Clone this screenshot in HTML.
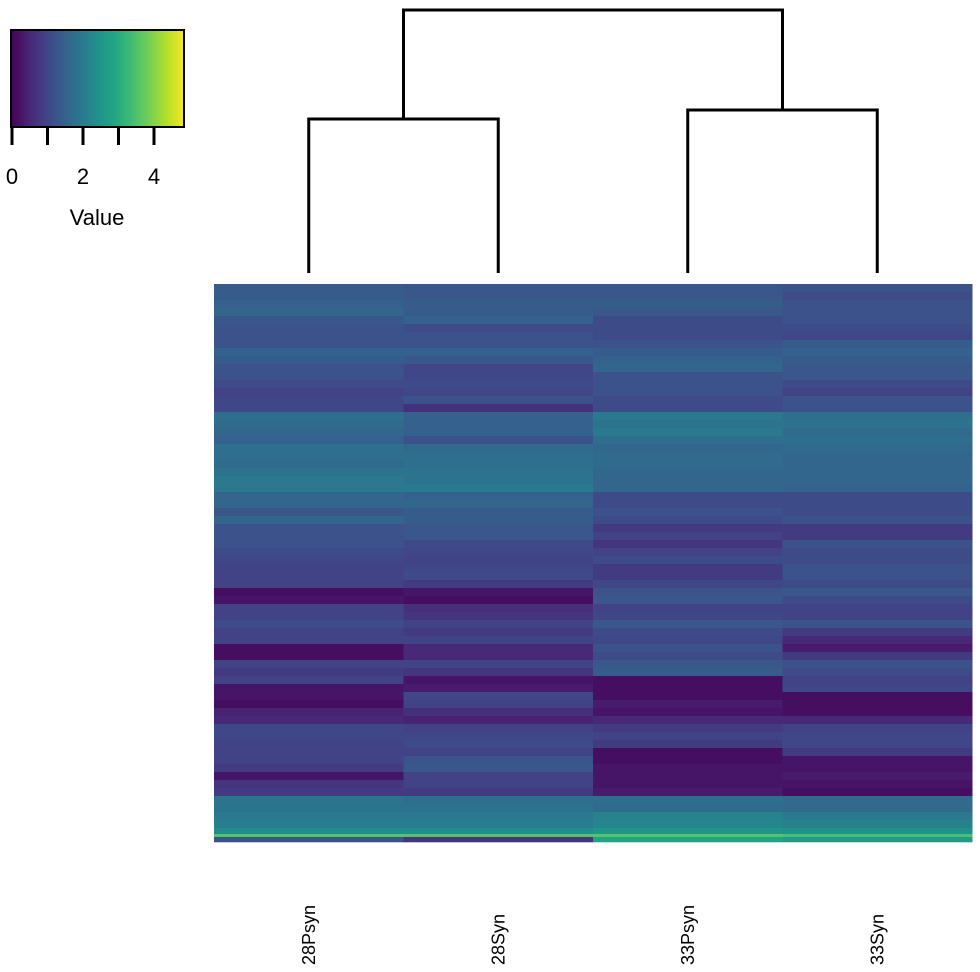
<!DOCTYPE html>
<html><head><meta charset="utf-8">
<style>
html,body{margin:0;padding:0;background:#fff;}
svg{display:block;font-family:"Liberation Sans",Arial,sans-serif;}
</style></head>
<body>
<svg id="chart" width="980" height="972" viewBox="0 0 980 972">
  <defs>
    <linearGradient id="vir" x1="0" x2="1" y1="0" y2="0"></linearGradient>
  </defs>
  <g id="legend">
    <rect x="11" y="30" width="173" height="97" fill="url(#vir)" stroke="#000" stroke-width="2"></rect>
    <g id="legend-ticks"></g>
    <text x="97" y="225" font-size="22" text-anchor="middle">Value</text>
  </g>
  <g id="dendro" stroke="#000" stroke-width="3" fill="none"></g>
  <g id="cells"></g>
  <g id="collabels"></g>
</svg>
<script>
const columns = ["28Psyn","28Syn","33Psyn","33Syn"];
const legendTicks = [0,1,2,3,4];
const legendTickLabels = ["0","","2","","4"];
const col1 = [1.5,1.5,1.6,1.7,1.4,1.3,1.3,1.3,1.6,1.5,1.3,1.3,1.2,1.0,1.1,1.1,1.9,1.8,1.7,1.6,1.9,1.9,1.8,2.0,2.1,2.1,1.7,1.7,1.4,1.7,1.3,1.3,1.3,1.2,1.1,1.0,1.0,1.0,0.2,0.3,1.0,1.0,1.2,1.0,1.0,0.2,0.2,1.0,0.9,1.0,0.3,0.3,0.2,0.5,0.6,1.1,1.1,1.0,1.0,1.0,0.9,0.3,0.8,0.9,2.0,2.0,2.1,2.2,2.5,3.8,1.3];
const col2 = [1.4,1.4,1.5,1.5,1.6,1.2,1.3,1.3,1.6,1.4,1.1,1.1,1.2,1.1,1.3,0.7,1.6,1.6,1.6,1.3,1.8,1.9,1.9,2.0,2.0,2.1,1.6,1.7,1.5,1.5,1.4,1.4,1.2,1.1,1.0,1.1,1.2,0.9,0.3,0.2,0.7,0.8,1.0,0.9,1.0,0.6,0.6,1.0,0.8,0.3,0.4,1.1,1.0,0.7,0.5,1.0,1.1,1.2,1.0,1.3,1.4,1.0,1.0,0.9,1.9,2.0,2.1,2.2,2.5,3.8,0.8];
const col3 = [1.4,1.4,1.5,1.4,1.2,1.2,1.2,1.3,1.5,1.6,1.7,1.3,1.3,1.3,1.2,1.2,2.1,2.0,2.1,1.9,1.7,1.8,1.8,1.7,1.7,1.7,1.2,1.2,1.3,1.2,0.9,1.0,0.8,1.0,1.2,0.9,0.9,1.1,1.3,1.4,1.0,1.1,1.4,1.2,1.1,1.3,1.2,1.4,1.5,0.2,0.2,0.2,0.4,0.3,0.6,0.9,1.0,0.9,0.2,0.2,0.3,0.3,0.3,0.4,1.9,1.8,2.3,2.4,2.7,3.8,3.0];
const col4 = [1.3,1.2,1.3,1.3,1.3,1.2,1.1,1.5,1.6,1.5,1.4,1.4,1.2,1.0,1.3,1.3,1.9,2.0,1.8,1.9,1.8,1.7,1.7,1.7,1.7,1.6,1.2,1.2,1.2,1.3,0.9,0.9,1.3,1.2,1.2,1.3,1.3,1.2,1.4,1.2,1.0,1.0,1.3,0.9,0.6,0.4,0.9,1.3,1.2,1.0,1.1,0.2,0.2,0.2,0.6,1.0,1.1,1.1,0.9,0.3,0.3,0.4,0.3,0.2,1.8,1.8,2.1,2.3,2.6,3.7,2.8];
const series = [col1,col2,col3,col4];
const legendMax = 4.9;
const cellMax = 5.2;

const stops = ["#440154","#482475","#414487","#355f8d","#2a788e","#21918c","#22a884","#44bf70","#7ad151","#bddf26","#fde725"];
function hex(h){return [parseInt(h.substr(1,2),16),parseInt(h.substr(3,2),16),parseInt(h.substr(5,2),16)];}
function viridisT(tt){
  let t=Math.max(0,Math.min(1,tt))*10;
  let i=Math.min(9,Math.floor(t)),f=t-i;
  const a=hex(stops[i]),b=hex(stops[i+1]);
  return "rgb("+a.map((x,k)=>Math.round(x+(b[k]-x)*f)).join(",")+")";
}
const NS="http://www.w3.org/2000/svg";
const hmLeft=214,hmRight=972,hmTop=284,hmBottom=842;
const colW=(hmRight-hmLeft)/columns.length;
const xCol=i=>hmLeft+i*colW;
const nRows=col1.length;
const nMain=nRows-3;
const mainH=8;
const tailTop=hmTop+nMain*mainH;
const tailH=(hmBottom-tailTop);
function yRow(r){
  if(r<nMain) return hmTop+r*mainH;
  const k=r-nMain;
  return tailTop+[0,0.43,0.64][k]*tailH;
}
function hRow(r){
  const next = r+1<nRows ? yRow(r+1) : hmBottom;
  return next-yRow(r);
}
const legX=v=>12+v*35.5;

const grad=document.getElementById('vir');
for(let k=0;k<=20;k++){
  const s=document.createElementNS(NS,'stop');
  s.setAttribute('offset',(k/20));
  s.setAttribute('stop-color',viridisT(k/20*(172/35.5)/legendMax));
  grad.appendChild(s);
}
const lt=document.getElementById('legend-ticks');
legendTicks.forEach((v,i)=>{
  const l=document.createElementNS(NS,'line');
  l.setAttribute('x1',legX(v));l.setAttribute('x2',legX(v));
  l.setAttribute('y1',127);l.setAttribute('y2',145);
  l.setAttribute('stroke','#000');l.setAttribute('stroke-width','3');
  
  
  lt.appendChild(l);
  if(legendTickLabels[i]){
    const t=document.createElementNS(NS,'text');
    t.setAttribute('x',legX(v));t.setAttribute('y',184);
    t.setAttribute('font-size','22');t.setAttribute('text-anchor','middle');
    t.textContent=legendTickLabels[i];
    
    
    lt.appendChild(t);
  }
});
const cells=document.getElementById('cells');
series.forEach((vals,c)=>{
  vals.forEach((v,r)=>{
    const rc=document.createElementNS(NS,'rect');
    rc.setAttribute('x',xCol(c));rc.setAttribute('y',yRow(r));
    rc.setAttribute('width',colW+0.5);rc.setAttribute('height',hRow(r)+0.3);
    rc.setAttribute('fill',viridisT(v/cellMax));
    
    
    cells.appendChild(rc);
  });
});
const cl=document.getElementById('collabels');
columns.forEach((name,c)=>{
  const cx=xCol(c)+colW/2;
  const t=document.createElementNS(NS,'text');
  t.setAttribute('transform','translate('+(cx+6)+',965) rotate(-90)');
  t.setAttribute('font-size','18');
  t.textContent=name;
  
  
  cl.appendChild(t);
});
const d=document.getElementById('dendro');
const lx=c=>xCol(c)+colW/2;
const leafY=273;
const paths=[
  "M"+lx(0)+","+leafY+"V119H"+lx(1)+"V"+leafY,
  "M"+lx(2)+","+leafY+"V110H"+lx(3)+"V"+leafY,
  "M"+((lx(0)+lx(1))/2)+",119V10H"+((lx(2)+lx(3))/2)+"V110"
];
paths.forEach(p=>{
  const e=document.createElementNS(NS,'path');
  e.setAttribute('d',p);
  
  
  d.appendChild(e);
});
</script>
</body></html>
